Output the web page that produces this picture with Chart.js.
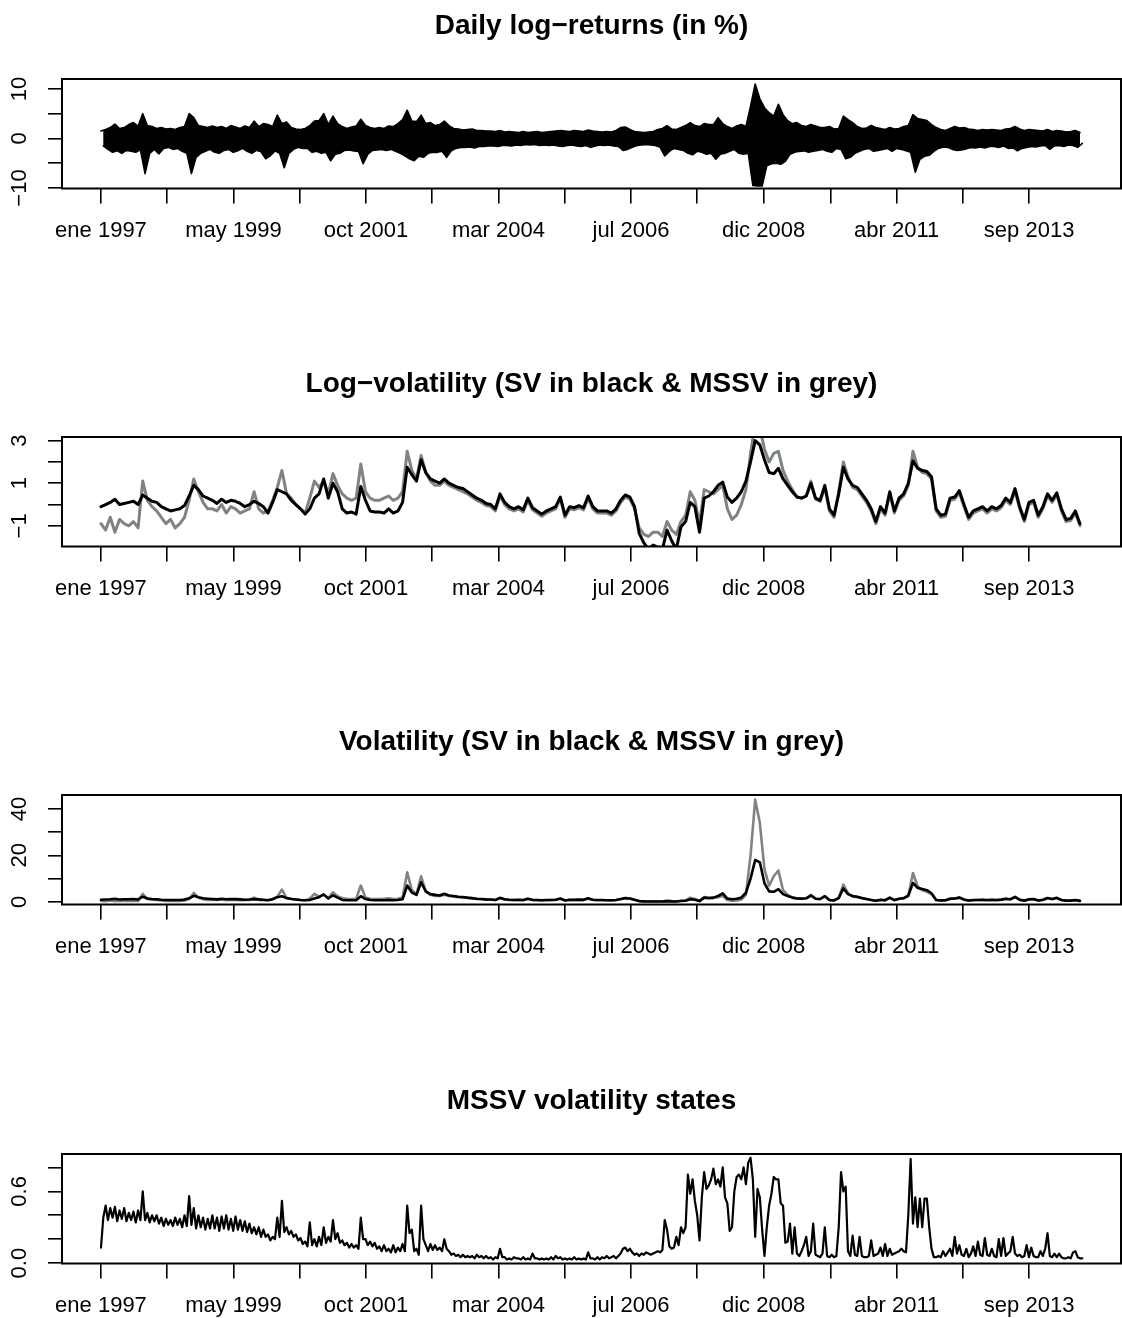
<!DOCTYPE html>
<html>
<head>
<meta charset="utf-8">
<title>SV vs MSSV</title>
<script src="https://cdn.jsdelivr.net/npm/chart.js@4.4.1/dist/chart.umd.min.js"></script>
<style>
  html, body { margin: 0; padding: 0; background: #fff; }
  body { position: relative; width: 1122px; height: 1318px; overflow: hidden; }
  .panel { position: absolute; left: 0; width: 1122px; height: 359px; }
</style>
</head>
<body>
<div class="panel" style="top:0px"><canvas id="returns" width="1122" height="359"></canvas></div>
<div class="panel" style="top:358px"><canvas id="logvol" width="1122" height="359"></canvas></div>
<div class="panel" style="top:716px"><canvas id="vol" width="1122" height="359"></canvas></div>
<div class="panel" style="top:1075px"><canvas id="states" width="1122" height="359"></canvas></div>
<script>
// monthly readings, Jan 1997 .. Aug 2014
const startYear = 1997;

// daily log-returns: highest and lowest return within each month
const retUp = [
  1.5, 1.8, 2.2, 2.9, 2.0, 2.2, 2.8, 3.2, 2.5, 5.0, 2.6, 2.4,
  2.0, 2.2, 1.9, 2.0, 1.8, 2.2, 2.4, 5.0, 4.2, 2.6, 2.4, 2.2,
  2.5, 2.2, 2.4, 2.0, 2.6, 2.3, 2.0, 2.5, 2.2, 3.5, 2.4, 3.0,
  2.8, 2.4, 4.7, 3.0, 3.3, 2.2, 1.9, 1.8, 2.0, 2.6, 3.5, 3.6,
  5.0, 2.8, 4.5, 3.0, 2.4, 2.0, 2.3, 2.5, 3.9, 2.6, 2.2, 2.0,
  2.2, 2.0, 2.5, 2.4, 3.0, 3.8, 5.7, 3.5, 3.4, 4.7, 3.0, 3.2,
  2.6, 2.8, 3.5, 2.6, 2.0, 1.9, 1.7, 1.8, 1.9, 1.6, 1.6, 1.5,
  1.5, 1.4, 1.6, 1.3, 1.4, 1.3, 1.2, 1.4, 1.2, 1.3, 1.4, 1.2,
  1.3, 1.4, 1.5, 1.6, 1.5, 1.4, 1.6, 1.5, 1.4, 1.7, 1.5, 1.4,
  1.3, 1.4, 1.3, 1.6, 2.2, 2.3, 1.8, 1.4, 1.3, 1.2, 1.3, 1.4,
  1.8, 2.0, 2.6, 1.9, 1.8, 2.2, 2.6, 3.2, 2.6, 2.4, 3.0, 2.8,
  2.8, 4.2, 3.0, 2.4, 2.0, 2.5, 2.8, 2.4, 6.5, 11.0, 8.0, 6.2,
  5.2, 4.5, 6.9, 4.8, 3.6, 3.0, 3.2, 2.6, 2.4, 2.8, 2.5, 2.2,
  2.2, 2.4, 1.9, 2.0, 4.5, 3.8, 3.2, 2.4, 2.0, 2.1, 2.6, 2.2,
  2.0, 1.8, 2.2, 1.9, 2.0, 2.4, 2.6, 4.8, 4.0, 3.8, 3.6, 2.8,
  2.2, 1.8, 1.6, 2.0, 2.4, 2.1, 2.2, 1.9, 1.8, 1.6, 1.8, 1.7,
  1.8, 1.7, 1.6, 1.9, 2.0, 2.4, 1.9, 1.6, 1.8, 1.7, 1.6, 1.5,
  1.8, 1.4, 1.6, 1.5, 1.3, 1.4, 1.6, 1.2
];
const retDown = [
  -1.5, -2.2, -2.8, -2.5, -3.0, -2.4, -2.6, -2.8, -2.3, -7.1, -3.0, -2.2,
  -3.1, -2.0, -1.8, -2.2, -2.0, -2.6, -3.0, -7.1, -3.8, -3.0, -2.6, -2.2,
  -2.8, -3.0, -2.4, -2.2, -2.8, -2.5, -2.0, -2.6, -3.0, -2.4, -2.7, -4.1,
  -3.5, -2.5, -3.0, -5.9, -3.0, -2.2, -1.8, -2.0, -2.0, -2.8, -2.6, -3.0,
  -2.8, -4.5, -3.2, -3.0, -2.4, -2.3, -2.5, -2.6, -5.1, -3.2, -2.4, -2.3,
  -2.2, -2.4, -2.2, -2.6, -3.0, -3.5, -4.1, -4.5, -3.6, -3.8, -3.0, -2.8,
  -2.8, -2.6, -3.8, -2.5, -2.0, -1.8, -1.8, -1.7, -1.9, -1.6, -1.6, -1.5,
  -1.5, -1.6, -1.4, -1.4, -1.5, -1.3, -1.4, -1.2, -1.3, -1.2, -1.4, -1.3,
  -1.4, -1.3, -1.5, -1.6, -1.4, -1.3, -1.5, -1.6, -1.4, -1.8, -1.5, -1.3,
  -1.4, -1.3, -1.5, -1.6, -2.4, -2.2, -1.8, -1.4, -1.3, -1.2, -1.3, -1.4,
  -1.8, -3.5, -2.6, -2.0, -2.2, -2.4, -3.0, -3.3, -2.6, -2.8, -3.2, -3.0,
  -4.2, -3.2, -3.0, -2.6, -2.2, -3.0, -3.2, -3.0, -9.5, -9.6, -9.6, -5.5,
  -5.1, -5.0, -5.2, -4.6, -3.2, -2.8, -2.6, -2.5, -2.8, -2.6, -2.4, -2.2,
  -2.6, -2.8, -2.0, -2.2, -4.1, -3.8, -3.0, -2.6, -2.2, -2.0, -2.6, -2.4,
  -2.2, -2.0, -2.6, -2.0, -2.2, -2.5, -2.8, -6.8, -4.2, -3.6, -3.4, -2.6,
  -2.0, -1.7, -1.8, -2.2, -2.4, -2.3, -2.1, -1.8, -1.9, -1.7, -1.9, -1.6,
  -1.6, -1.8, -1.5, -2.0, -1.9, -2.5, -2.0, -1.8, -1.6, -1.7, -1.5, -1.4,
  -2.2, -1.5, -1.4, -1.6, -1.3, -1.4, -1.8, -1.0
];

// log-volatility
const logVolSV = [
  -0.1, 0.0, 0.1, 0.25, 0.0, 0.05, 0.1, 0.15, 0.0, 0.45, 0.3, 0.15,
  0.1, -0.1, -0.2, -0.3, -0.25, -0.2, -0.05, 0.4, 0.9, 0.7, 0.4, 0.3,
  0.2, 0.05, 0.25, 0.1, 0.2, 0.15, 0.05, -0.1, 0.0, 0.15, 0.05, -0.1,
  -0.4, 0.1, 0.7, 0.6, 0.5, 0.2, 0.0, -0.2, -0.45, -0.2, 0.3, 0.5,
  1.2, 0.3, 1.0, 0.6, -0.2, -0.4, -0.35, -0.45, 0.85, 0.2, -0.3, -0.35,
  -0.35, -0.4, -0.2, -0.4, -0.3, 0.1, 1.75, 1.4, 1.1, 2.1, 1.5, 1.2,
  1.1, 1.0, 1.2, 1.0, 0.9, 0.8, 0.75, 0.6, 0.45, 0.3, 0.2, 0.05,
  0.0, -0.2, 0.5, 0.1, -0.1, -0.2, -0.1, -0.25, 0.3, -0.15, -0.3, -0.45,
  -0.3, -0.2, -0.1, 0.35, -0.5, -0.1, -0.15, -0.05, -0.15, 0.4, -0.1, -0.3,
  -0.3, -0.3, -0.4, -0.2, 0.2, 0.45, 0.35, -0.1, -1.35, -1.8, -2.1, -1.9,
  -2.0, -2.1, -1.2, -1.7, -2.1, -1.05, -0.8, 0.1, -0.1, -1.3, 0.3, 0.4,
  0.6, 0.9, 1.05, 0.35, 0.1, 0.3, 0.6, 1.1, 2.0, 3.0, 2.8, 2.1,
  1.5, 1.45, 1.7, 1.2, 0.9, 0.6, 0.35, 0.3, 0.4, 1.0, 0.3, 0.2,
  0.9, -0.2, -0.5, 0.5, 1.75, 1.2, 0.9, 0.8, 0.5, 0.2, -0.2, -0.8,
  -0.1, -0.4, 0.6, -0.3, 0.3, 0.5, 1.0, 2.05, 1.7, 1.6, 1.55, 1.3,
  -0.2, -0.5, -0.45, 0.3, 0.35, 0.65, 0.0, -0.6, -0.3, -0.2, -0.1, -0.3,
  -0.1, -0.2, -0.05, 0.3, 0.1, 0.75, -0.1, -0.7, 0.1, 0.2, -0.5, -0.1,
  0.5, 0.2, 0.55, -0.2, -0.7, -0.65, -0.3, -0.9
];
const logVolMSSV = [
  -0.9, -1.2, -0.6, -1.3, -0.7, -0.9, -1.0, -0.8, -1.1, 1.1, 0.2, -0.1,
  -0.3, -0.6, -0.9, -0.7, -1.1, -0.9, -0.6, 0.2, 1.2, 0.6, 0.1, -0.2,
  -0.2, -0.3, 0.0, -0.4, -0.1, -0.2, -0.4, -0.3, -0.2, 0.6, -0.2, -0.4,
  -0.3, 0.2, 0.8, 1.6, 0.5, 0.3, 0.0, -0.2, -0.4, 0.3, 1.1, 0.8,
  1.1, 0.5, 1.45, 0.9, 0.5, 0.3, 0.2, 0.3, 1.9, 0.6, 0.3, 0.2,
  0.2, 0.3, 0.4, 0.2, 0.3, 0.6, 2.5, 1.6, 1.2, 2.3, 1.5, 1.1,
  0.9, 0.9, 1.1, 0.9, 0.8, 0.7, 0.6, 0.5, 0.35, 0.2, 0.1, -0.05,
  -0.1, -0.3, 0.4, 0.0, -0.2, -0.3, -0.2, -0.35, 0.2, -0.25, -0.4, -0.55,
  -0.4, -0.3, -0.2, 0.3, -0.6, -0.2, -0.25, -0.15, -0.25, 0.3, -0.2, -0.4,
  -0.4, -0.4, -0.5, -0.3, 0.1, 0.35, 0.25, -0.2, -1.1, -1.4, -1.5, -1.3,
  -1.3, -1.5, -0.8, -1.2, -1.4, -0.8, -0.5, 0.6, 0.2, -0.9, 0.7, 0.6,
  0.5, 0.7, 0.9, -0.2, -0.7, -0.5, 0.0, 0.7, 2.4, 3.8, 3.6, 2.6,
  2.0, 2.4, 2.5, 1.6, 1.1, 0.7, 0.35, 0.3, 0.4, 1.1, 0.25, 0.15,
  0.8, -0.3, -0.6, 0.6, 2.0, 1.3, 0.8, 0.7, 0.4, 0.1, -0.3, -0.9,
  -0.2, -0.5, 0.5, -0.4, 0.2, 0.4, 0.9, 2.5, 1.75, 1.5, 1.45, 1.2,
  -0.3, -0.6, -0.55, 0.2, 0.25, 0.55, -0.1, -0.7, -0.4, -0.3, -0.2, -0.4,
  -0.2, -0.3, -0.15, 0.2, 0.0, 0.65, -0.2, -0.8, 0.0, 0.1, -0.6, -0.2,
  0.4, 0.1, 0.45, -0.3, -0.8, -0.75, -0.4, -1.0
];

// volatility
const volSV = [
  0.9, 1.0, 1.1, 1.3, 1.0, 1.1, 1.1, 1.2, 1.0, 2.2, 1.4, 1.2,
  1.1, 0.9, 0.8, 0.75, 0.8, 0.8, 0.95, 1.5, 2.6, 2.0, 1.5, 1.35,
  1.2, 1.05, 1.3, 1.1, 1.2, 1.15, 1.05, 0.9, 1.0, 1.15, 1.05, 0.9,
  0.7, 1.1, 2.0, 2.4, 1.6, 1.2, 1.0, 0.8, 0.65, 0.8, 1.4, 2.0,
  3.2, 1.4, 2.8, 1.8, 0.8, 0.7, 0.7, 0.65, 2.4, 1.2, 0.75, 0.7,
  0.7, 0.65, 0.8, 0.65, 0.75, 1.1, 7.0, 4.0, 3.0, 8.4, 4.5, 3.3,
  3.0, 2.7, 3.5, 2.7, 2.5, 2.2, 2.1, 1.8, 1.6, 1.35, 1.2, 1.05,
  1.0, 0.8, 1.7, 1.1, 0.9, 0.8, 0.9, 0.8, 1.35, 0.85, 0.75, 0.65,
  0.75, 0.8, 0.9, 1.4, 0.6, 0.9, 0.85, 0.95, 0.85, 1.5, 0.9, 0.75,
  0.75, 0.7, 0.65, 0.8, 1.2, 1.6, 1.4, 0.9, 0.3, 0.2, 0.15, 0.15,
  0.15, 0.15, 0.3, 0.2, 0.15, 0.35, 0.45, 1.1, 0.9, 0.3, 1.8, 1.5,
  1.8, 2.5, 3.6, 1.4, 1.1, 1.35, 1.8, 3.9, 10.0, 18.0, 17.0, 8.0,
  4.5, 4.3, 5.5, 3.3, 2.5, 1.8, 1.4, 1.35, 1.5, 2.7, 1.35, 1.2,
  2.5, 0.8, 0.6, 1.6, 5.8, 3.3, 2.5, 2.2, 1.6, 1.2, 0.8, 0.45,
  0.9, 0.7, 1.8, 0.75, 1.35, 1.6, 2.7, 8.1, 6.0, 5.5, 5.0, 3.7,
  0.8, 0.6, 0.65, 1.35, 1.4, 1.9, 1.0, 0.55, 0.75, 0.8, 0.9, 0.75,
  0.9, 0.8, 0.95, 1.35, 1.1, 2.1, 0.9, 0.5, 1.1, 1.2, 0.6, 0.9,
  1.65, 1.2, 1.7, 0.8, 0.5, 0.5, 0.75, 0.4
];
const volMSSV = [
  0.4, 0.3, 0.55, 0.3, 0.5, 0.4, 0.4, 0.45, 0.35, 3.4, 1.2, 0.9,
  0.75, 0.55, 0.4, 0.5, 0.35, 0.4, 0.55, 1.2, 3.8, 1.8, 1.1, 0.8,
  0.8, 0.75, 1.0, 0.65, 0.9, 0.8, 0.65, 0.75, 0.8, 1.8, 0.8, 0.65,
  0.75, 1.2, 2.2, 5.3, 1.6, 1.3, 1.0, 0.8, 0.65, 1.35, 3.4, 2.2,
  3.0, 1.6, 4.1, 2.4, 1.6, 1.35, 1.2, 1.35, 7.0, 1.8, 1.35, 1.2,
  1.2, 1.35, 1.5, 1.2, 1.35, 1.8, 12.7, 5.0, 3.3, 11.0, 4.5, 3.0,
  2.5, 2.5, 3.0, 2.5, 2.2, 2.0, 1.8, 1.65, 1.4, 1.2, 1.1, 0.95,
  0.9, 0.75, 1.5, 1.0, 0.8, 0.75, 0.8, 0.7, 1.2, 0.8, 0.65, 0.6,
  0.65, 0.75, 0.8, 1.35, 0.55, 0.8, 0.8, 0.85, 0.8, 1.35, 0.8, 0.65,
  0.65, 0.65, 0.6, 0.75, 1.1, 1.4, 1.3, 0.8, 0.35, 0.25, 0.22, 0.27,
  0.27, 0.22, 0.45, 0.3, 0.25, 0.45, 0.6, 1.8, 1.2, 0.4, 2.0, 1.8,
  1.6, 2.0, 2.5, 0.8, 0.5, 0.6, 1.0, 3.0, 20.0, 44.0, 34.0, 14.0,
  7.0, 11.0, 13.5, 5.0, 3.0, 2.0, 1.4, 1.35, 1.5, 3.0, 1.3, 1.15,
  2.2, 0.75, 0.55, 1.8, 7.4, 3.7, 2.2, 2.0, 1.5, 1.1, 0.75, 0.4,
  0.8, 0.6, 1.65, 0.7, 1.2, 1.5, 2.5, 12.4, 6.7, 5.0, 4.3, 3.3,
  0.75, 0.55, 0.6, 1.2, 1.3, 1.7, 0.9, 0.5, 0.65, 0.75, 0.8, 0.65,
  0.8, 0.7, 0.85, 1.2, 1.0, 1.9, 0.8, 0.45, 1.0, 1.1, 0.55, 0.8,
  1.5, 1.1, 1.55, 0.75, 0.45, 0.47, 0.67, 0.37
];

// MSSV volatility state, read at the start and the middle of each month
const statesStart = [
  0.13, 0.48, 0.46, 0.47, 0.44, 0.46, 0.42, 0.43, 0.44, 0.60, 0.42, 0.40,
  0.40, 0.38, 0.37, 0.36, 0.38, 0.37, 0.40, 0.56, 0.46, 0.40, 0.38, 0.37,
  0.40, 0.38, 0.39, 0.40, 0.37, 0.39, 0.36, 0.35, 0.33, 0.30, 0.30, 0.28,
  0.24, 0.22, 0.38, 0.52, 0.30, 0.27, 0.24, 0.21, 0.18, 0.34, 0.20, 0.22,
  0.30, 0.22, 0.36, 0.25, 0.19, 0.17, 0.16, 0.15, 0.38, 0.20, 0.18, 0.17,
  0.14, 0.15, 0.12, 0.15, 0.13, 0.16, 0.48, 0.28, 0.12, 0.48, 0.15, 0.16,
  0.15, 0.13, 0.20, 0.10, 0.08, 0.07, 0.07, 0.06, 0.06, 0.07, 0.06, 0.06,
  0.05, 0.05, 0.12, 0.05, 0.04, 0.05, 0.04, 0.05, 0.04, 0.08, 0.04, 0.04,
  0.04, 0.05, 0.06, 0.05, 0.04, 0.04, 0.05, 0.04, 0.04, 0.09, 0.04, 0.05,
  0.05, 0.06, 0.05, 0.04, 0.08, 0.13, 0.12, 0.07, 0.06, 0.07, 0.08, 0.08,
  0.10, 0.11, 0.28, 0.12, 0.22, 0.30, 0.30, 0.58, 0.52, 0.19, 0.76, 0.65,
  0.79, 0.70, 0.80, 0.50, 0.30, 0.72, 0.70, 0.66, 0.88, 0.22, 0.55, 0.06,
  0.48, 0.72, 0.70, 0.48, 0.18, 0.08, 0.08, 0.10, 0.22, 0.10, 0.07, 0.05,
  0.30, 0.05, 0.05, 0.30, 0.60, 0.10, 0.23, 0.06, 0.06, 0.05, 0.19, 0.07,
  0.13, 0.16, 0.12, 0.08, 0.10, 0.10, 0.40, 0.33, 0.30, 0.30, 0.54, 0.12,
  0.05, 0.05, 0.06, 0.12, 0.22, 0.15, 0.06, 0.05, 0.14, 0.18, 0.06, 0.07,
  0.12, 0.05, 0.06, 0.06, 0.10, 0.08, 0.07, 0.06, 0.05, 0.06, 0.05, 0.06,
  0.25, 0.05, 0.05, 0.05, 0.04, 0.04, 0.10, 0.04
];
const statesMid = [
  0.38, 0.36, 0.38, 0.35, 0.37, 0.35, 0.36, 0.34, 0.36, 0.36, 0.34, 0.35,
  0.33, 0.31, 0.32, 0.31, 0.32, 0.30, 0.31, 0.32, 0.29, 0.30, 0.28, 0.29,
  0.29, 0.27, 0.29, 0.28, 0.27, 0.28, 0.27, 0.26, 0.25, 0.24, 0.22, 0.22,
  0.19, 0.20, 0.22, 0.26, 0.24, 0.22, 0.19, 0.16, 0.14, 0.15, 0.14, 0.15,
  0.17, 0.18, 0.20, 0.17, 0.15, 0.13, 0.13, 0.12, 0.20, 0.15, 0.14, 0.12,
  0.10, 0.10, 0.09, 0.09, 0.10, 0.10, 0.25, 0.10, 0.07, 0.20, 0.10, 0.11,
  0.11, 0.10, 0.12, 0.07, 0.06, 0.05, 0.05, 0.05, 0.04, 0.05, 0.04, 0.04,
  0.03, 0.04, 0.05, 0.03, 0.03, 0.04, 0.03, 0.03, 0.03, 0.04, 0.03, 0.03,
  0.03, 0.03, 0.04, 0.03, 0.03, 0.03, 0.03, 0.03, 0.03, 0.04, 0.03, 0.03,
  0.04, 0.04, 0.06, 0.06, 0.12, 0.10, 0.09, 0.08, 0.08, 0.09, 0.07, 0.09,
  0.09, 0.36, 0.14, 0.13, 0.15, 0.25, 0.74, 0.70, 0.40, 0.55, 0.62, 0.70,
  0.66, 0.64, 0.55, 0.27, 0.60, 0.74, 0.80, 0.84, 0.70, 0.62, 0.28, 0.30,
  0.58, 0.70, 0.50, 0.17, 0.33, 0.30, 0.06, 0.15, 0.06, 0.33, 0.06, 0.08,
  0.06, 0.07, 0.06, 0.76, 0.64, 0.06, 0.07, 0.22, 0.05, 0.06, 0.06, 0.08,
  0.06, 0.06, 0.07, 0.09, 0.12, 0.09, 0.87, 0.55, 0.54, 0.54, 0.30, 0.05,
  0.06, 0.10, 0.09, 0.06, 0.08, 0.07, 0.12, 0.08, 0.06, 0.07, 0.21, 0.06,
  0.06, 0.20, 0.21, 0.08, 0.22, 0.06, 0.05, 0.15, 0.13, 0.05, 0.10, 0.12,
  0.06, 0.08, 0.08, 0.04, 0.05, 0.09, 0.05, 0.04
];

// time axis ticks (decimal years); only every other one is labelled
const xTickYears = [1997.00, 1998.19, 1999.38, 2000.57, 2001.76, 2002.95, 2004.14, 2005.33,
                    2006.52, 2007.71, 2008.90, 2010.10, 2011.29, 2012.48, 2013.67];
const xTickLabels = ['ene 1997', '', 'may 1999', '', 'oct 2001', '', 'mar 2004', '',
                     'jul 2006', '', 'dic 2008', '', 'abr 2011', '', 'sep 2013'];

const retTicks = [-10, -5, 0, 5, 10];
const retTickLabels = ['\u221210', '', '0', '', '10'];
const logVolTicks = [-1, 0, 1, 2, 3];
const logVolTickLabels = ['\u22121', '', '1', '', '3'];
const volTicks = [0, 10, 20, 30, 40];
const volTickLabels = ['0', '', '20', '', '40'];
const stateTicks = [0, 0.2, 0.4, 0.6, 0.8];
const stateTickLabels = ['0.0', '', '', '0.6', ''];

const FONT = "'Liberation Sans', Arial, Helvetica, sans-serif";
const TICK_SIZE = 22;
const PLOT_LEFT = 62;      // width reserved for the y axis
const PLOT_TOP = 79;
const PLOT_BOTTOM = 188.5;
const CANVAS_H = 359;
const Y_TICK_LEN = 14;
const Y_LABEL_X = 20;      // centre of the rotated y labels
const GREY = '#7e8484';

Chart.defaults.font.family = FONT;
Chart.defaults.color = '#000';

const monthX = i => startYear + i / 12;
const monthly = vals => vals.map((v, i) => ({ x: monthX(i), y: v }));
// two readings per month, joined in time order
const halfMonthly = (a, b) => a.flatMap((v, i) => [{ x: monthX(i), y: v }, { x: monthX(i + 0.5), y: b[i] }]);

const measureCtx = document.createElement('canvas').getContext('2d');
function yLabelPadding(labels) {
  measureCtx.font = TICK_SIZE + 'px ' + FONT;
  const widest = Math.max(...labels.map(t => measureCtx.measureText(t).width));
  return PLOT_LEFT - Y_TICK_LEN - Y_LABEL_X - widest / 2;
}

// plot frame drawn around the chart area
const frame = {
  id: 'frame',
  afterDatasetsDraw(chart) {
    const { ctx, chartArea: a } = chart;
    ctx.save();
    ctx.strokeStyle = '#000';
    ctx.lineWidth = 2;
    ctx.strokeRect(a.left, a.top, a.right - a.left, a.bottom - a.top);
    ctx.restore();
  }
};

function line(data, color, width, extra) {
  return Object.assign({
    data, borderColor: color, borderWidth: width, pointRadius: 0,
    tension: 0, fill: false, borderJoinStyle: 'round', borderCapStyle: 'round'
  }, extra);
}

function panel(id, title, datasets, yMin, yMax, yTicks, yLabels) {
  new Chart(document.getElementById(id), {
    type: 'line',
    data: { datasets },
    plugins: [frame],
    options: {
      responsive: false,
      animation: false,
      events: [],
      layout: { padding: { left: 0, right: 1, top: 0, bottom: 0 } },
      plugins: {
        legend: { display: false },
        tooltip: { enabled: false },
        title: {
          display: true, text: title, fullSize: false, color: '#000',
          font: { family: FONT, size: 28, weight: 'bold', lineHeight: 1.2 },
          padding: { top: 9, bottom: PLOT_TOP - 9 - 28 * 1.2 }
        }
      },
      scales: {
        x: {
          type: 'linear', min: 1996.3, max: 2015.32,
          afterBuildTicks: s => { s.ticks = xTickYears.map(v => ({ value: v })); },
          afterFit: s => { s.height = CANVAS_H - PLOT_BOTTOM; },
          ticks: {
            autoSkip: false, maxRotation: 0, minRotation: 0, padding: 14,
            font: { size: TICK_SIZE }, color: '#000',
            callback: (v, i) => xTickLabels[i]
          },
          grid: { drawOnChartArea: false, tickLength: 15, color: '#000', lineWidth: 1.6 },
          border: { display: false }
        },
        y: {
          min: yMin, max: yMax,
          afterBuildTicks: s => { s.ticks = yTicks.map(v => ({ value: v })); },
          afterFit: s => { s.width = PLOT_LEFT; },
          ticks: {
            autoSkip: false, minRotation: 90, maxRotation: 90, crossAlign: 'center',
            padding: yLabelPadding(yLabels),
            font: { size: TICK_SIZE }, color: '#000',
            callback: (v, i) => yLabels[i]
          },
          grid: { drawOnChartArea: false, tickLength: Y_TICK_LEN, color: '#000', lineWidth: 1.6 },
          border: { display: false }
        }
      }
    }
  });
}

// returns: band between the monthly highs and lows, filled solid
panel('returns', 'Daily log\u2212returns (in %)',
  [line(monthly(retUp), '#000', 1.6, { fill: '+1', backgroundColor: '#000' }),
   line(halfMonthly(retDown, retDown).filter((p, k) => k % 2 === 1), '#000', 1.6)],
  -10.1, 12.0, retTicks, retTickLabels);

panel('logvol', 'Log\u2212volatility (SV in black & MSSV in grey)',
  [line(monthly(logVolSV), '#000', 3), line(monthly(logVolMSSV), GREY, 3)],
  -1.97, 3.17, logVolTicks, logVolTickLabels);

panel('vol', 'Volatility (SV in black & MSSV in grey)',
  [line(monthly(volSV), '#000', 2.6), line(monthly(volMSSV), GREY, 2.6)],
  -1.16, 46.0, volTicks, volTickLabels);

panel('states', 'MSSV volatility states',
  [line(halfMonthly(statesStart, statesMid), '#000', 2.2)],
  -0.003, 0.912, stateTicks, stateTickLabels);
</script>
</body>
</html>
